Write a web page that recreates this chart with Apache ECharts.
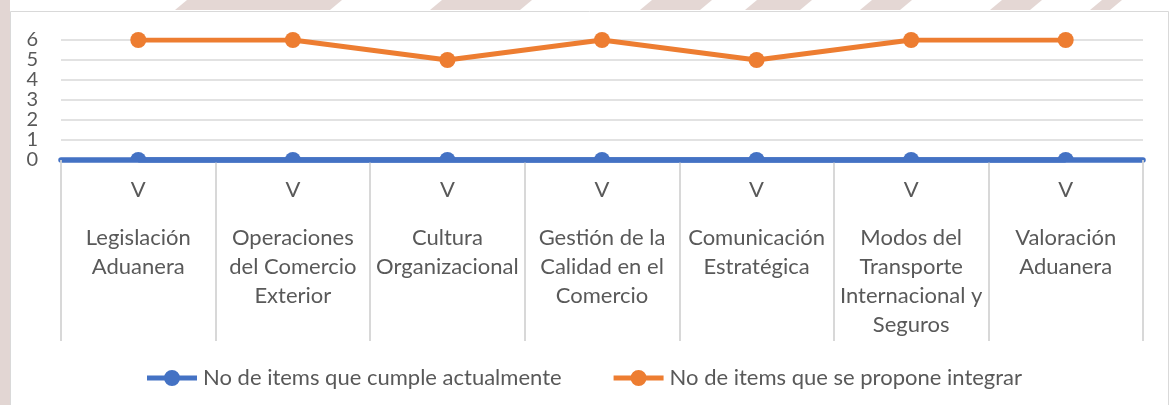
<!DOCTYPE html>
<html>
<head>
<meta charset="utf-8">
<script src="https://cdn.jsdelivr.net/npm/echarts@6/dist/echarts.min.js"></script>
<style>
  html, body { margin: 0; padding: 0; background: #ffffff; }
  #chart { width: 1173px; height: 405px; }
</style>
</head>
<body>
<div id="chart"></div>
<script>
// ---- data ----
const categories = [
  'Legislación\nAduanera',
  'Operaciones\ndel Comercio\nExterior',
  'Cultura\nOrganizacional',
  'Gestión de la\nCalidad en el\nComercio',
  'Comunicación\nEstratégica',
  'Modos del\nTransporte\nInternacional y\nSeguros',
  'Valoración\nAduanera'
];
const levelLabels = ['V', 'V', 'V', 'V', 'V', 'V', 'V'];
const seriesNames = ['No de items que cumple actualmente', 'No de items que se propone integrar'];
const cumpleValues = [0, 0, 0, 0, 0, 0, 0];
const proponeValues = [6, 6, 5, 6, 5, 6, 6];
const yTicks = [0, 1, 2, 3, 4, 5, 6];

const BLUE = '#4472C4';
const ORANGE = '#ED7D31';
const TEXT = '#595959';
const FONT = 'Lato';
const FS = 22;

const chart = echarts.init(document.getElementById('chart'), null, { renderer: 'canvas' });

const legendIcon = 'path://M0,5.5 L50,5.5 L50,10.5 L0,10.5 Z M17,8 A8,8 0 1 1 33,8 A8,8 0 1 1 17,8 Z';
const domeSymbol = 'path://M0,8 A8,8 0 0 1 16,8 Z';

const catIndex = {};
categories.forEach((c, i) => { catIndex[c] = i; });

const stripes = [];
[[175,330],[430,520],[640,700],[745,800],[860,900],[990,1030],[1090,1110]].forEach(([a, b]) => {
  stripes.push({
    type: 'polygon', silent: true, z: -10,
    shape: { points: [[a + 12, 0], [b + 12, 0], [b, 10], [a, 10]] },
    style: { fill: '#e4d7d4' }
  });
});

const option = {
  backgroundColor: '#ffffff',
  animation: false,
  textStyle: { fontFamily: FONT },
  graphic: [
    { type: 'rect', silent: true, z: -11, shape: { x: 0, y: 0, width: 10, height: 405 }, style: { fill: '#e2d6d3' } },
    ...stripes,
    { type: 'rect', silent: true, z: -9, shape: { x: 10.5, y: 11.5, width: 1158, height: 400 }, style: { fill: '#ffffff', stroke: '#d9d9d9', lineWidth: 1 } }
  ],
  grid: { left: 61, right: 30, top: 40, bottom: 245, containLabel: false },
  legend: {
    top: 362,
    left: 142,
    itemWidth: 50,
    itemHeight: 16,
    itemGap: 52,
    textStyle: { color: TEXT, fontSize: FS, fontFamily: FONT, padding: [0, 0, 0, 1] },
    data: [
      { name: seriesNames[0], icon: legendIcon, itemStyle: { color: BLUE } },
      { name: seriesNames[1], icon: legendIcon, itemStyle: { color: ORANGE } }
    ]
  },
  xAxis: {
    type: 'category',
    data: categories,
    boundaryGap: true,
    axisLine: { show: true, lineStyle: { color: BLUE, width: 5.5 } },
    axisTick: { show: true, length: 181, lineStyle: { color: '#d4d4d4', width: 1.8 } },
    axisLabel: {
      interval: 0,
      margin: 15,
      color: TEXT,
      fontFamily: FONT,
      fontSize: FS,
      formatter: function (val) {
        const i = catIndex[val];
        const lines = val.split('\n').map(s => '{n|' + s + '}').join('\n');
        return '{v|' + levelLabels[i] + '}\n{g| }\n' + lines;
      },
      rich: {
        v: { fontSize: FS, lineHeight: 29, color: TEXT, fontFamily: FONT },
        g: { fontSize: 10, lineHeight: 19 },
        n: { fontSize: FS, lineHeight: 29, color: TEXT, fontFamily: FONT, align: 'center' }
      }
    },
    splitLine: { show: false }
  },
  yAxis: {
    type: 'value',
    min: yTicks[0],
    max: yTicks[yTicks.length - 1],
    interval: 1,
    axisLine: { show: false },
    axisTick: { show: false },
    axisLabel: { margin: 23, color: TEXT, fontSize: 20, fontFamily: FONT },
    splitLine: { show: true, lineStyle: { color: '#d9d9d9', width: 1.5 } }
  },
  series: [
    {
      name: seriesNames[0],
      type: 'line',
      data: cumpleValues,
      symbol: domeSymbol,
      symbolSize: [16, 8],
      symbolOffset: [0, -4],
      showAllSymbol: true,
      itemStyle: { color: BLUE },
      lineStyle: { color: BLUE, width: 5.5 },
      z: 3
    },
    {
      name: seriesNames[1],
      type: 'line',
      data: proponeValues,
      symbol: 'circle',
      symbolSize: 16,
      showAllSymbol: true,
      itemStyle: { color: ORANGE },
      lineStyle: { color: ORANGE, width: 5 },
      z: 4
    }
  ]
};

chart.setOption(option);
</script>
</body>
</html>
